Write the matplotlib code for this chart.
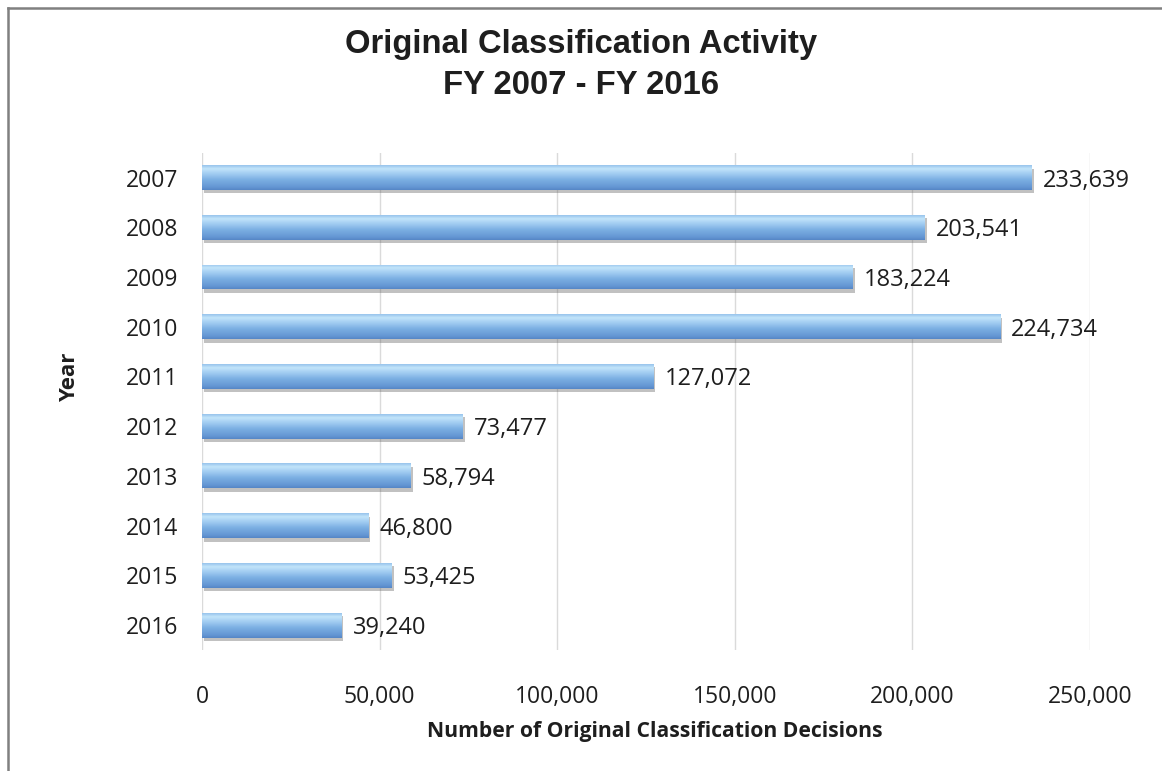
import matplotlib
import numpy as np

matplotlib.use("Agg")
import matplotlib.pyplot as plt
from matplotlib import patheffects
from matplotlib.colors import LinearSegmentedColormap
from matplotlib.lines import Line2D
from matplotlib.ticker import FuncFormatter

years = ["2007", "2008", "2009", "2010", "2011", "2012", "2013", "2014", "2015", "2016"]
decisions = [233639, 203541, 183224, 224734, 127072, 73477, 58794, 46800, 53425, 39240]
x_ticks = [0, 50000, 100000, 150000, 200000, 250000]

TEXT = "#1e1e1e"
BODY_FONT = ["Open Sans", "DejaVu Sans"]
TITLE_FONT = ["Liberation Sans", "DejaVu Sans"]

# vertical shading of each bar, top edge -> bottom edge
bar_cmap = LinearSegmentedColormap.from_list(
    "bar_shade",
    [
        (0.00, "#98c4ec"),
        (0.14, "#c2e4fa"),
        (0.34, "#a2cdf2"),
        (0.60, "#7aaee2"),
        (0.88, "#6597d4"),
        (1.00, "#5687c6"),
    ],
)

fig = plt.figure(figsize=(11.62, 7.71), dpi=100)
ax = fig.add_axes([0.1738, 0.157, 0.7642, 0.645])

n = len(years)
ypos = np.arange(n)[::-1]
bar_h = 0.5

bars = ax.barh(ypos, decisions, height=bar_h, color="#7aaee2", edgecolor="none",
               zorder=2)
shadow = [patheffects.SimplePatchShadow(offset=(1.5, -2.5), shadow_rgbFace="#666666",
                                        alpha=0.4),
          patheffects.Normal()]
gradient = np.linspace(0, 1, 64).reshape(-1, 1)
for bar, y, v in zip(bars, ypos, decisions):
    bar.set_path_effects(shadow)
    im = ax.imshow(gradient, cmap=bar_cmap, aspect="auto", origin="upper",
                   extent=(0, v, y - bar_h / 2, y + bar_h / 2), zorder=3,
                   interpolation="bilinear")
    im.set_clip_path(bar)
    ax.annotate(f"{v:,}", xy=(v, y), xytext=(8, 0), textcoords="offset points",
                va="center_baseline", ha="left", fontsize=17, color=TEXT,
                family=BODY_FONT)

ax.set_xlim(0, 250000)
ax.set_ylim(-0.5, n - 0.5)
ax.set_xticks(x_ticks)
ax.xaxis.set_major_formatter(FuncFormatter(lambda v, _: f"{v:,.0f}"))
ax.set_yticks(ypos)
ax.set_yticklabels(years)
ax.tick_params(axis="both", length=0, labelsize=16.5, colors=TEXT)
ax.tick_params(axis="x", pad=25)
ax.tick_params(axis="y", pad=17)
for lbl in ax.get_xticklabels() + ax.get_yticklabels():
    lbl.set_family(BODY_FONT)

ax.grid(axis="x", color="#dadada", linewidth=1.0, zorder=0)
ax.set_axisbelow(True)
for s in ax.spines.values():
    s.set_visible(False)

fig.text(655 / 1162, 1 - 732 / 771, "Number of Original Classification Decisions",
         ha="center", va="center", fontsize=15.2, fontweight="bold", color=TEXT,
         family=BODY_FONT)
fig.text(70 / 1162, 1 - 377 / 771, "Year", rotation=90, ha="center", va="center",
         fontsize=16, fontweight="bold", color=TEXT, family=BODY_FONT)

# two-line title
for txt, yc in [("Original Classification Activity", 45),
                ("FY 2007 - FY 2016", 85)]:
    fig.text(0.5, 1 - yc / 771, txt, ha="center", va="center", fontsize=23.6,
             fontweight="bold", color=TEXT, family=TITLE_FONT)

# outer frame on the left and top edges
fig.add_artist(Line2D([8 / 1162, 8 / 1162], [0, 1 - 8 / 771], color="#808080",
                      linewidth=1.8, transform=fig.transFigure))
fig.add_artist(Line2D([8 / 1162, 1], [1 - 8 / 771, 1 - 8 / 771], color="#808080",
                      linewidth=1.8, transform=fig.transFigure))

fig.savefig("out.png", dpi=100)
